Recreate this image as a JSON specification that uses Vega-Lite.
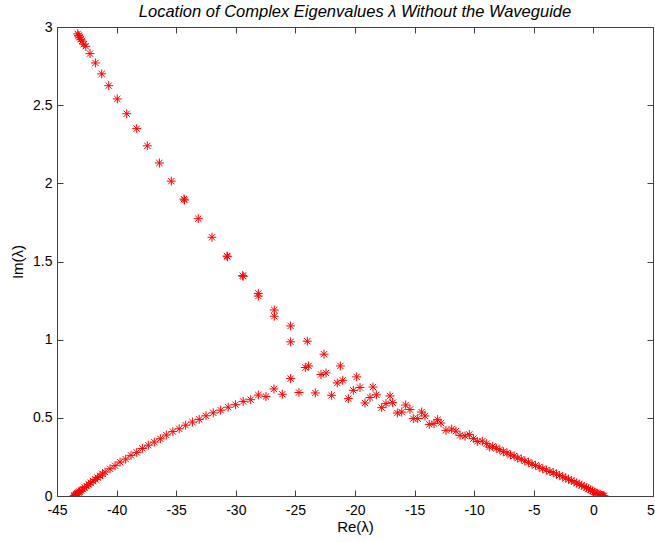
{
  "$schema": "https://vega.github.io/schema/vega-lite/v6.json",
  "autosize": "none",
  "width": 596,
  "height": 469,
  "padding": {"left": 57, "top": 27, "right": 2, "bottom": 46},
  "background": "white",
  "title": {
    "text": "Location of Complex Eigenvalues λ Without the Waveguide",
    "font": "Liberation Sans",
    "fontSize": 16.5,
    "fontStyle": "italic",
    "fontWeight": "normal",
    "color": "black",
    "anchor": "middle",
    "offset": 9,
    "dy": 9
  },
  "config": {
    "view": {"stroke": "#404040", "strokeWidth": 1},
    "axis": {
      "grid": false,
      "domain": false,
      "labelFlush": false,
      "labelOverlap": false,
      "tickColor": "#404040",
      "tickSize": -6,
      "labelFont": "Liberation Sans",
      "labelFontSize": 14,
      "labelColor": "black",
      "titleFont": "Liberation Sans",
      "titleFontSize": 15,
      "titleFontWeight": "normal",
      "titleColor": "black"
    }
  },
  "datasets": {
    "eig": [
      {"re": -43.26, "im": 2.956}, {"re": -43.18, "im": 2.945}, {"re": -43.10, "im": 2.935},
      {"re": -43.00, "im": 2.922}, {"re": -42.90, "im": 2.910}, {"re": -42.75, "im": 2.890},
      {"re": -42.59, "im": 2.877}, {"re": -42.23, "im": 2.830}, {"re": -41.78, "im": 2.770},
      {"re": -41.25, "im": 2.700}, {"re": -40.66, "im": 2.625}, {"re": -39.94, "im": 2.540},
      {"re": -39.15, "im": 2.445}, {"re": -38.31, "im": 2.350}, {"re": -37.42, "im": 2.240},
      {"re": -36.41, "im": 2.130}, {"re": -35.41, "im": 2.014}, {"re": -34.35, "im": 1.899},
      {"re": -34.30, "im": 1.893}, {"re": -33.15, "im": 1.774}, {"re": -32.00, "im": 1.655},
      {"re": -30.74, "im": 1.535}, {"re": -30.70, "im": 1.530}, {"re": -29.42, "im": 1.410},
      {"re": -29.38, "im": 1.405}, {"re": -28.11, "im": 1.296}, {"re": -28.11, "im": 1.279},
      {"re": -26.77, "im": 1.190}, {"re": -26.77, "im": 1.150}, {"re": -25.40, "im": 1.088},
      {"re": -25.40, "im": 0.986}, {"re": -24.00, "im": 0.990}, {"re": -22.60, "im": 0.907},
      {"re": -24.17, "im": 0.822}, {"re": -23.89, "im": 0.832}, {"re": -21.23, "im": 0.832},
      {"re": -22.85, "im": 0.777}, {"re": -22.43, "im": 0.787}, {"re": -25.40, "im": 0.751},
      {"re": -19.86, "im": 0.762}, {"re": -21.49, "im": 0.723}, {"re": -21.03, "im": 0.740},
      {"re": -26.80, "im": 0.685}, {"re": -24.70, "im": 0.662}, {"re": -23.33, "im": 0.659},
      {"re": -21.96, "im": 0.644}, {"re": -20.56, "im": 0.623}, {"re": -20.14, "im": 0.676},
      {"re": -19.58, "im": 0.694}, {"re": -18.49, "im": 0.697}, {"re": -19.16, "im": 0.595},
      {"re": -18.74, "im": 0.630}, {"re": -18.21, "im": 0.647}, {"re": -17.06, "im": 0.640},
      {"re": -17.40, "im": 0.591}, {"re": -17.76, "im": 0.565}, {"re": -16.84, "im": 0.597},
      {"re": -15.75, "im": 0.582}, {"re": -16.08, "im": 0.537}, {"re": -16.45, "im": 0.531},
      {"re": -15.39, "im": 0.553}, {"re": -14.41, "im": 0.537}, {"re": -14.13, "im": 0.512},
      {"re": -15.11, "im": 0.495}, {"re": -14.74, "im": 0.495}, {"re": -13.07, "im": 0.488},
      {"re": -12.79, "im": 0.467}, {"re": -13.77, "im": 0.458}, {"re": -13.37, "im": 0.463},
      {"re": -12.37, "im": 0.420}, {"re": -11.89, "im": 0.428}, {"re": -11.53, "im": 0.415},
      {"re": -11.19, "im": 0.388}, {"re": -10.77, "im": 0.383}, {"re": -10.41, "im": 0.394},
      {"re": -10.07, "im": 0.367}, {"re": -9.74, "im": 0.349}, {"re": -9.32, "im": 0.351},
      {"re": -8.95, "im": 0.335}, {"re": -8.73, "im": 0.313}, {"re": -8.45, "im": 0.318},
      {"re": -8.15, "im": 0.305}, {"re": -7.85, "im": 0.296}, {"re": -7.55, "im": 0.283},
      {"re": -7.25, "im": 0.276}, {"re": -6.95, "im": 0.263}, {"re": -6.65, "im": 0.256},
      {"re": -6.35, "im": 0.243}, {"re": -6.05, "im": 0.236}, {"re": -5.75, "im": 0.224},
      {"re": -5.45, "im": 0.216}, {"re": -5.15, "im": 0.204}, {"re": -4.85, "im": 0.196},
      {"re": -4.55, "im": 0.185}, {"re": -4.25, "im": 0.175}, {"re": -3.95, "im": 0.166},
      {"re": -3.65, "im": 0.157}, {"re": -3.37, "im": 0.149}, {"re": -3.10, "im": 0.140},
      {"re": -2.83, "im": 0.132}, {"re": -2.57, "im": 0.123}, {"re": -2.32, "im": 0.115},
      {"re": -2.08, "im": 0.107}, {"re": -1.85, "im": 0.099}, {"re": -1.62, "im": 0.091},
      {"re": -1.40, "im": 0.083}, {"re": -1.19, "im": 0.076}, {"re": -0.98, "im": 0.068},
      {"re": -0.78, "im": 0.061}, {"re": -0.59, "im": 0.053}, {"re": -0.41, "im": 0.046},
      {"re": -0.24, "im": 0.039}, {"re": -0.08, "im": 0.032}, {"re": 0.07, "im": 0.026},
      {"re": 0.21, "im": 0.020}, {"re": 0.34, "im": 0.015}, {"re": 0.46, "im": 0.011},
      {"re": 0.57, "im": 0.007}, {"re": 0.67, "im": 0.004}, {"re": 0.76, "im": 0.002},
      {"re": 0.84, "im": 0.001}, {"re": 0.91, "im": 0.000},
      {"re": -43.58, "im": 0.000}, {"re": -43.52, "im": 0.003}, {"re": -43.45, "im": 0.007},
      {"re": -43.38, "im": 0.012}, {"re": -43.30, "im": 0.017}, {"re": -43.20, "im": 0.022},
      {"re": -43.10, "im": 0.028}, {"re": -42.97, "im": 0.036}, {"re": -42.84, "im": 0.044},
      {"re": -42.68, "im": 0.054}, {"re": -42.51, "im": 0.063}, {"re": -42.34, "im": 0.074},
      {"re": -42.17, "im": 0.085}, {"re": -41.98, "im": 0.095}, {"re": -41.78, "im": 0.106},
      {"re": -41.59, "im": 0.118}, {"re": -41.39, "im": 0.129}, {"re": -41.18, "im": 0.141},
      {"re": -40.97, "im": 0.153}, {"re": -40.55, "im": 0.174}, {"re": -40.13, "im": 0.194},
      {"re": -39.71, "im": 0.217}, {"re": -39.24, "im": 0.236}, {"re": -38.79, "im": 0.260},
      {"re": -38.31, "im": 0.279}, {"re": -37.84, "im": 0.304}, {"re": -37.34, "im": 0.325},
      {"re": -36.84, "im": 0.345}, {"re": -36.33, "im": 0.366}, {"re": -35.83, "im": 0.390},
      {"re": -35.28, "im": 0.412}, {"re": -34.75, "im": 0.430}, {"re": -34.21, "im": 0.453},
      {"re": -33.64, "im": 0.473}, {"re": -33.07, "im": 0.490}, {"re": -32.50, "im": 0.513},
      {"re": -31.89, "im": 0.532}, {"re": -31.27, "im": 0.549}, {"re": -30.64, "im": 0.568},
      {"re": -30.02, "im": 0.584}, {"re": -29.38, "im": 0.605}, {"re": -28.75, "im": 0.616},
      {"re": -28.11, "im": 0.646}, {"re": -27.47, "im": 0.636}, {"re": -26.10, "im": 0.651}
    ]
  },
  "layer": [
    {
      "data": {"name": "eig"},
      "mark": {
        "type": "point",
        "shape": "M-1,0L1,0M0,-1L0,1M-0.7,-0.7L0.7,0.7M-0.7,0.7L0.7,-0.7",
        "filled": false,
        "stroke": "#ff0000",
        "strokeWidth": 1,
        "size": 80,
        "opacity": 1,
        "clip": true
      },
      "encoding": {
        "x": {
          "field": "re", "type": "quantitative",
          "scale": {"domain": [-45, 5], "nice": false, "zero": false},
          "axis": {
            "orient": "bottom",
            "values": [-45, -40, -35, -30, -25, -20, -15, -10, -5, 0, 5],
            "labelExpr": "'' + datum.value",
            "labelPadding": 13,
            "labelOffset": {"condition": {"test": "datum.value === 5", "value": -2.5}, "value": 0},
            "title": "Re(λ)",
            "titlePadding": 2
          }
        },
        "y": {
          "field": "im", "type": "quantitative",
          "scale": {"domain": [0, 3], "nice": false, "zero": false},
          "axis": {
            "orient": "left",
            "values": [0, 0.5, 1, 1.5, 2, 2.5, 3],
            "labelExpr": "'' + datum.value",
            "labelPadding": 11,
            "title": "Im(λ)",
            "titlePadding": 7
          }
        }
      }
    },
    {
      "data": {"name": "eig"},
      "mark": {"type": "point", "opacity": 0},
      "encoding": {
        "x": {
          "field": "re", "type": "quantitative",
          "axis": {
            "orient": "top",
            "values": [-45, -40, -35, -30, -25, -20, -15, -10, -5, 0, 5],
            "labels": false,
            "title": null
          }
        },
        "y": {
          "field": "im", "type": "quantitative",
          "axis": {
            "orient": "right",
            "values": [0, 0.5, 1, 1.5, 2, 2.5, 3],
            "labels": false,
            "title": null
          }
        }
      }
    }
  ],
  "resolve": {"axis": {"x": "independent", "y": "independent"}}
}
